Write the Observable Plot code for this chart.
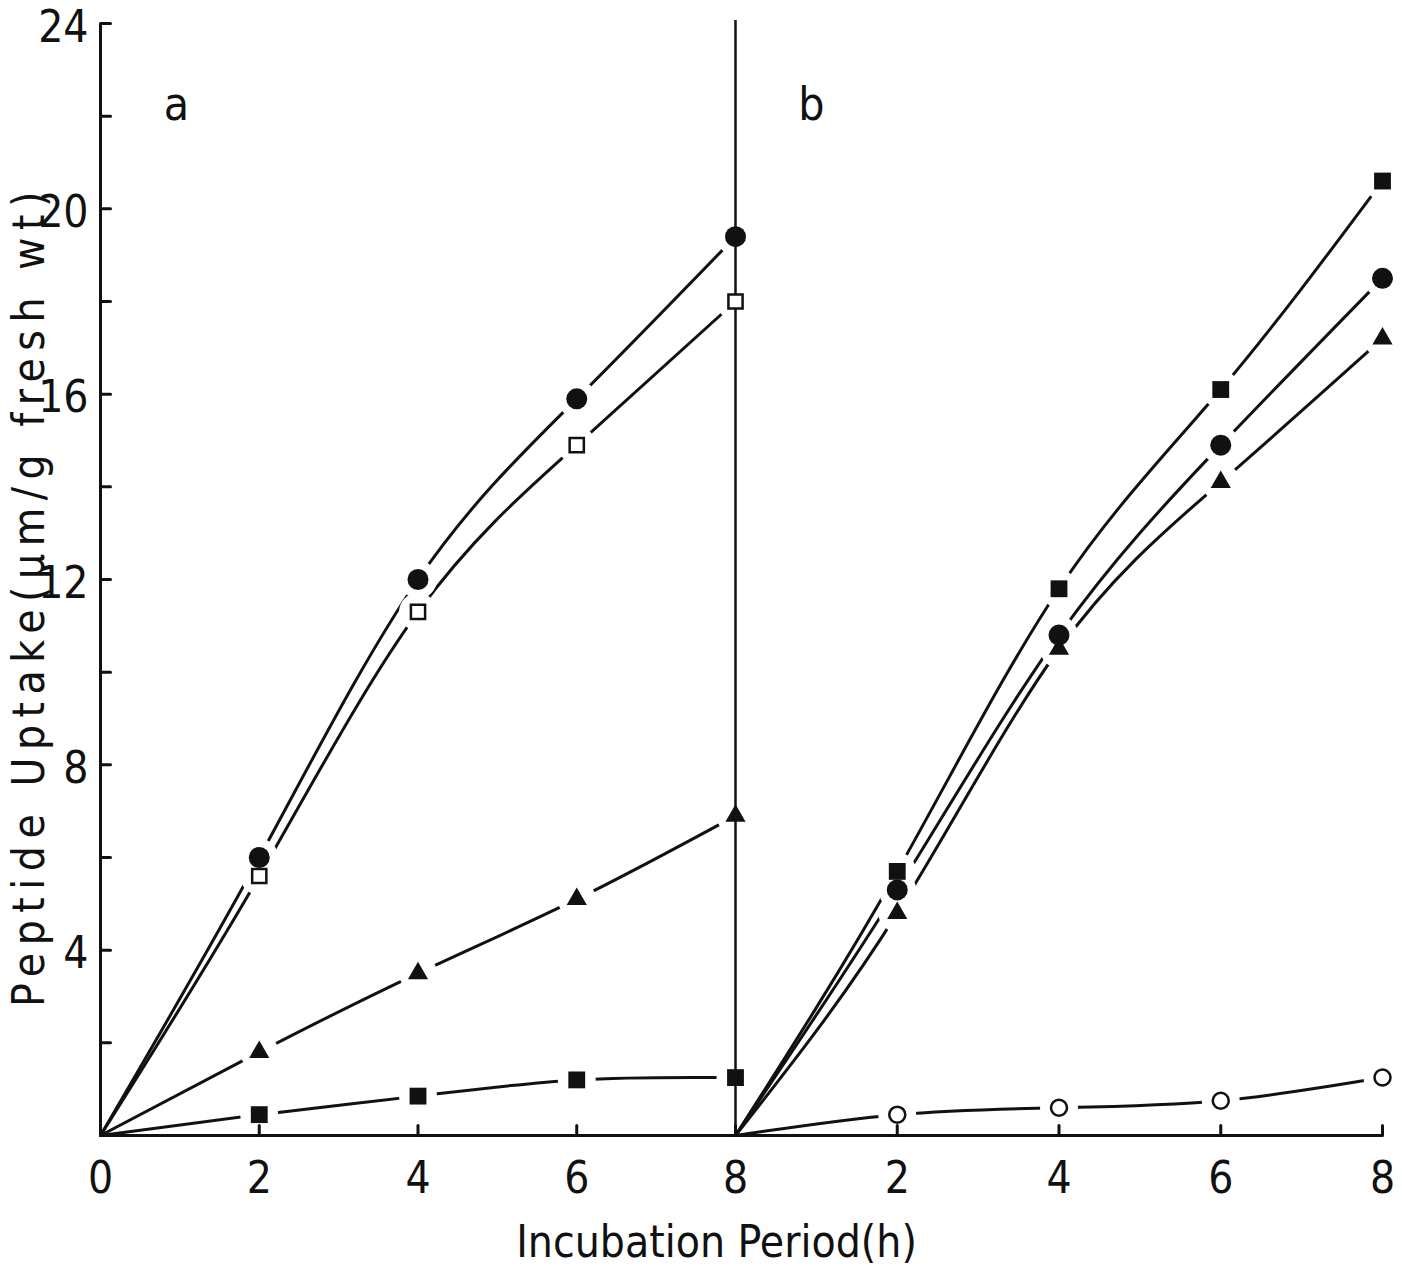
<!DOCTYPE html>
<html><head><meta charset="utf-8">
<script src="https://cdn.jsdelivr.net/npm/d3@7"></script>
<script src="https://cdn.jsdelivr.net/npm/@observablehq/plot@0.6"></script>
<style>
html,body{margin:0;padding:0;background:#fff;}
#chart svg{display:block;}
</style>
</head><body><div id="chart"></div>
<script>
// Incubation period (h) sampled in each panel
const hours = [0, 2, 4, 6, 8];
// Panel a series (peptide uptake, µm/g fresh wt)
const aFilledCircle = [0, 6.0, 12.0, 15.9, 19.4];
const aOpenSquare   = [0, 5.6, 11.3, 14.9, 18.0];
const aTriangle     = [0, 1.8, 3.5, 5.1, 6.9];
const aFilledSquare = [0, 0.45, 0.85, 1.2, 1.25];
// Panel b series
const bFilledSquare = [0, 5.7, 11.8, 16.1, 20.6];
const bFilledCircle = [0, 5.3, 10.8, 14.9, 18.5];
const bTriangle     = [0, 4.8, 10.5, 14.1, 17.2];
const bOpenCircle   = [0, 0.45, 0.6, 0.75, 1.25];
// Axis ticks
const yMajorTicks = [4, 8, 12, 16, 20, 24];
const yMinorTicks = [2, 4, 6, 8, 10, 12, 14, 16, 18, 20, 22, 24];
const xTicks = [0, 2, 4, 6, 8, 10, 12, 14, 16];
const panelLabels = ["a", "b"];
const panelStarts = [0, 8];
const panelOffset = 8; // panel b's hour 0 sits at the end of panel a
const xTitle = "Incubation Period(h)";
const yTitle = "Peptide Uptake(µm/g fresh wt)";

const seriesList = [
  ["a", "aFilledCircle", aFilledCircle],
  ["a", "aOpenSquare", aOpenSquare],
  ["a", "aTriangle", aTriangle],
  ["a", "aFilledSquare", aFilledSquare],
  ["b", "bFilledSquare", bFilledSquare],
  ["b", "bFilledCircle", bFilledCircle],
  ["b", "bTriangle", bTriangle],
  ["b", "bOpenCircle", bOpenCircle]
];
const rows = seriesList.flatMap(([panel, series, vals]) =>
  hours.map((h, i) => ({panel, series, hour: h, uptake: vals[i]})));
const pts = rows.filter(d => d.hour > 0);
const X = d => d.panel === "b" ? d.hour + panelOffset : d.hour;
const only = (...names) => pts.filter(d => names.includes(d.series));

const FONT = "'Liberation Sans Narrow', 'DejaVu Sans Condensed', 'Arial Narrow', sans-serif";
const tickShape = {draw(ctx, l) { ctx.moveTo(0, 0); ctx.lineTo(0, -l); }};

const chart = Plot.plot({
  width: 1402,
  height: 1268,
  marginLeft: 100,
  marginRight: 20,
  marginTop: 23,
  marginBottom: 133,
  style: {fontFamily: FONT, background: "#fff", color: "#111"},
  x: {type: "linear", domain: [0, 8, 16], range: [100, 735, 1382]},
  y: {type: "linear", domain: [0, 24]},
  marks: [
    Plot.line(rows, {x: X, y: "uptake", z: "series", curve: "natural", stroke: "#111", strokeWidth: 3}),
    Plot.dot(pts, {x: X, y: "uptake", r: 19, fill: "white"}),
    Plot.ruleX([0], {stroke: "#111", strokeWidth: 3}),
    Plot.ruleX([panelOffset], {stroke: "#111", strokeWidth: 2.5, insetTop: -3}),
    Plot.ruleY([0], {stroke: "#111", strokeWidth: 3}),
    Plot.vector(yMinorTicks, {x: 0, y: d => d, rotate: 90, length: 10, anchor: "start", shape: tickShape, stroke: "#111", strokeWidth: 3}),
    Plot.vector(xTicks.filter(d => d > 0), {x: d => d, y: 0, rotate: 0, length: 10, anchor: "start", shape: tickShape, stroke: "#111", strokeWidth: 3}),
    Plot.axisY({ticks: yMajorTicks, tickSize: 0, tickPadding: 12, dy: 4, fontSize: 44, label: null}),
    Plot.axisX({ticks: xTicks, tickSize: 0, tickPadding: 26, fontSize: 44, label: null,
      tickFormat: d => d > panelOffset ? d - panelOffset : d}),
    // markers
    Plot.dot(only("aFilledCircle", "bFilledCircle"), {x: X, y: "uptake", r: 10.5, symbol: "circle", fill: "#111"}),
    Plot.dot(only("aFilledSquare", "bFilledSquare"), {x: X, y: "uptake", r: 9.5, symbol: "square", fill: "#111"}),
    Plot.dot(only("aTriangle", "bTriangle"), {x: X, y: "uptake", r: 7.5, symbol: "triangle", fill: "#111"}),
    Plot.dot(only("aOpenSquare"), {x: X, y: "uptake", r: 8, symbol: "square", fill: "white", stroke: "#111", strokeWidth: 2.5}),
    Plot.dot(only("bOpenCircle"), {x: X, y: "uptake", r: 8, symbol: "circle", fill: "white", stroke: "#111", strokeWidth: 2.5}),
    // panel letters
    Plot.text(panelLabels, {x: (d, i) => panelStarts[i], frameAnchor: "top", lineAnchor: "bottom", dx: 76, dy: 96, text: d => d, fontSize: 46, fill: "#111"}),
    // axis titles
    Plot.text([xTitle], {frameAnchor: "bottom", lineAnchor: "bottom", textAnchor: "middle", dx: -25, dy: 121, text: d => d, fontSize: 44, fill: "#111"}),
    Plot.text([yTitle], {frameAnchor: "left", rotate: -90, textAnchor: "middle", lineAnchor: "middle", dx: -71, dy: 16, text: d => d, fontSize: 44, fill: "#111"})
  ]
});
d3.select(chart).selectAll("text").filter(function() { return this.textContent === yTitle; })
  .style("letter-spacing", "7.5px");
document.getElementById("chart").appendChild(chart);
</script>
</body></html>
